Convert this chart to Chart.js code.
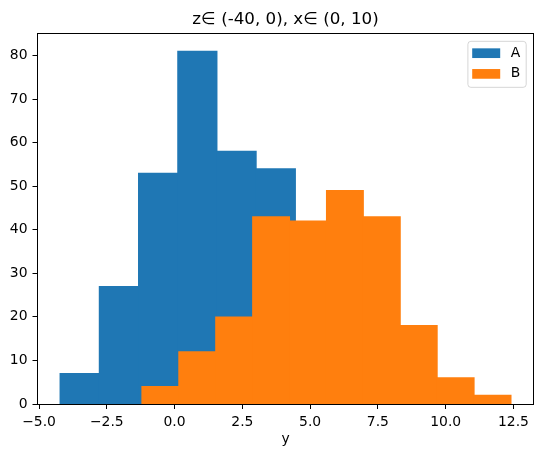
<!DOCTYPE html>
<html lang="en">
<head>
<meta charset="UTF-8">
<meta name="viewport" content="width=device-width, initial-scale=1.0">
<title>Histogram A / B</title>
<script src="https://cdn.jsdelivr.net/npm/chart.js"></script>
<style>
    html, body {
        margin: 0;
        padding: 0;
        background: #fff;
    }
    #chart-wrap {
        width: 543px;
        height: 457px;
    }
</style>
</head>
<body>
<div id="chart-wrap">
    <canvas id="histChart"></canvas>
</div>
<script>
    // bin edges and counts
    const seriesNames = ['A', 'B'];
    const edgesA = [-4.224, -2.777, -1.330, 0.117, 1.564, 3.011, 4.458, 5.905, 7.352, 8.799, 10.246];
    const countsA = [7, 27, 53, 81, 58, 54, 12, 5, 2, 1];
    const edgesB = [-1.206, 0.156, 1.517, 2.879, 4.241, 5.603, 6.964, 8.326, 9.688, 11.049, 12.411];
    const countsB = [4, 12, 20, 43, 42, 49, 43, 18, 6, 2];
    const xTicks = [-5, -2.5, 0, 2.5, 5, 7.5, 10, 12.5];
    const yTicks = [0, 10, 20, 30, 40, 50, 60, 70, 80];
    const titleText = 'z\u2208\u2004(-40, 0), x\u2208\u2004(0, 10)';
    const xTitle = 'y';

    const xMin = -5.056, xMax = 13.24, yMax = 85.05;
    const colors = ['#1f77b4', '#ff7f0e'];
    const fontFamily = '"DejaVu Sans", sans-serif';

    function binPoints(edges, counts) {
        return counts.map((c, i) => ({ x: (edges[i] + edges[i + 1]) / 2, y: c }));
    }

    function fmtX(v) {
        return v.toFixed(1).replace('-', '\u2212');
    }

    // black frame round the plot, like the axes spines
    const framePlugin = {
        id: 'frame',
        afterDraw(chart) {
            const { ctx, chartArea: a } = chart;
            const l = Math.floor(a.left) + 0.5, t = Math.floor(a.top) + 0.5;
            const r = Math.floor(a.right) + 0.5, b = Math.floor(a.bottom) + 0.5;
            ctx.save();
            ctx.strokeStyle = '#000';
            ctx.lineWidth = 1;
            ctx.strokeRect(l, t, r - l, b - t);
            ctx.restore();
        }
    };

    // legend drawn inside the plot, top right
    const innerLegend = {
        id: 'innerLegend',
        afterDraw(chart) {
            const { ctx, chartArea: a } = chart;
            const w = 58.3, h = 46;
            const x0 = a.right - 7.3 - w, y0 = a.top + 7.8;
            ctx.save();
            ctx.beginPath();
            ctx.roundRect(x0, y0, w, h, 3);
            ctx.fillStyle = 'rgba(255,255,255,0.8)';
            ctx.fill();
            ctx.strokeStyle = 'rgba(204,204,204,0.8)';
            ctx.lineWidth = 1;
            ctx.stroke();
            ctx.font = '13.9px ' + fontFamily;
            ctx.textBaseline = 'middle';
            ctx.textAlign = 'left';
            seriesNames.forEach((name, i) => {
                const ry = y0 + 7 + i * 20.7;
                ctx.fillStyle = colors[i];
                ctx.fillRect(x0 + 4.3, ry, 28, 9.7);
                ctx.fillStyle = '#000';
                ctx.fillText(name, x0 + 42.8, ry + 4.85);
            });
            ctx.restore();
        }
    };

    const tickGrid = {
        drawOnChartArea: false,
        drawTicks: true,
        offset: false,
        tickLength: 5,
        color: '#000',
        lineWidth: 1
    };

    function renderChart() {
        const ctx = document.getElementById('histChart').getContext('2d');
        new Chart(ctx, {
            type: 'bar',
            data: {
                datasets: [{
                    label: seriesNames[0],
                    data: binPoints(edgesA, countsA),
                    backgroundColor: colors[0],
                    xAxisID: 'x',
                    order: 2
                }, {
                    label: seriesNames[1],
                    data: binPoints(edgesB, countsB),
                    backgroundColor: colors[1],
                    xAxisID: 'xB',
                    order: 1
                }]
            },
            options: {
                responsive: true,
                maintainAspectRatio: false,
                animation: false,
                layout: { padding: { left: 0, right: 9.5, top: 0, bottom: 0 } },
                datasets: {
                    bar: {
                        barPercentage: 1,
                        categoryPercentage: 1,
                        grouped: false,
                        borderWidth: 0,
                        inflateAmount: 0.5
                    }
                },
                plugins: {
                    legend: { display: false },
                    tooltip: { enabled: false },
                    title: {
                        display: true,
                        text: titleText,
                        fullSize: false,
                        color: '#000',
                        font: { family: fontFamily, size: 16.7, weight: 'normal', lineHeight: 1.2 },
                        padding: { top: 10, bottom: 3.5 }
                    }
                },
                scales: {
                    x: {
                        type: 'linear',
                        position: 'bottom',
                        min: xMin,
                        max: xMax,
                        offset: false,
                        grid: tickGrid,
                        border: { display: false },
                        afterBuildTicks: axis => { axis.ticks = xTicks.map(v => ({ value: v })); },
                        afterFit: axis => { axis.height = 53; },
                        ticks: {
                            color: '#000',
                            padding: 5,
                            maxRotation: 0,
                            autoSkip: false,
                            font: { family: fontFamily, size: 13.9 },
                            callback: v => fmtX(v)
                        },
                        title: {
                            display: true,
                            text: xTitle,
                            color: '#000',
                            font: { family: fontFamily, size: 13.9, lineHeight: 1.2 },
                            padding: { top: 0, bottom: 9.7 }
                        }
                    },
                    xB: {
                        type: 'linear',
                        position: 'bottom',
                        display: false,
                        min: xMin,
                        max: xMax,
                        offset: false,
                        grid: { offset: false },
                        afterBuildTicks: axis => { axis.ticks = xTicks.map(v => ({ value: v })); }
                    },
                    y: {
                        type: 'linear',
                        min: 0,
                        max: yMax,
                        grid: tickGrid,
                        border: { display: false },
                        afterBuildTicks: axis => { axis.ticks = yTicks.map(v => ({ value: v })); },
                        afterFit: axis => { axis.width = 37.5; },
                        ticks: {
                            color: '#000',
                            padding: 5,
                            font: { family: fontFamily, size: 13.9 },
                            callback: v => String(v)
                        }
                    }
                }
            },
            plugins: [framePlugin, innerLegend]
        });
    }

    renderChart();
</script>
</body>
</html>
